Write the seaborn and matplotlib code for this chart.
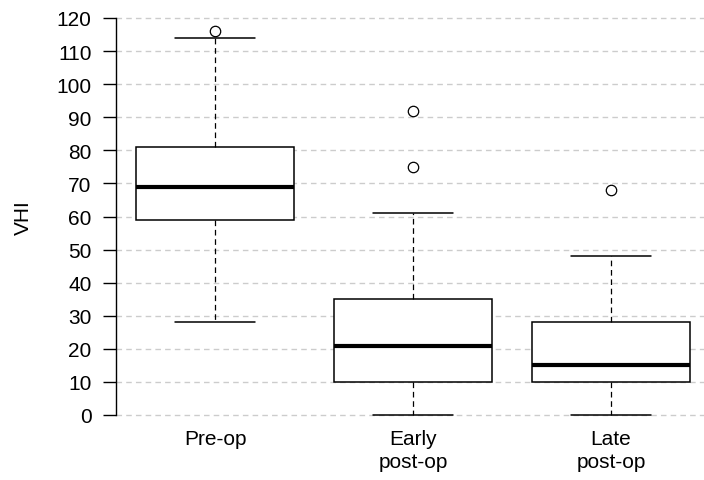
import matplotlib
matplotlib.use("Agg")
import matplotlib.pyplot as plt
import seaborn as sns
import pandas as pd

# Values chosen so the five-number summaries and outliers match the chart
pre_op = [28, 45, 55, 59, 62, 66, 69, 72, 77, 81, 95, 114, 116]
early_post_op = [0, 2, 5, 8, 10, 12, 15, 18, 21, 24, 28, 32, 35, 45, 61, 75, 92]
late_post_op = [0, 4, 8, 10, 12, 14, 15, 18, 22, 28, 38, 48, 68]
groups = ["Pre-op", "Early\npost-op", "Late\npost-op"]
y_ticks = list(range(0, 121, 10))

df = pd.DataFrame({
    "group": [groups[0]] * len(pre_op) + [groups[1]] * len(early_post_op) + [groups[2]] * len(late_post_op),
    "VHI": pre_op + early_post_op + late_post_op,
})

sns.set_theme(style="white")
plt.rcParams["font.family"] = ["Liberation Sans", "DejaVu Sans"]

fig = plt.figure(figsize=(7.04, 4.81), dpi=100)
ylo, yhi = -1.0, 120.64
ppu = 397 / 120.0
bottom_px = 416 + (0 - ylo) * ppu
top_px = 19 - (yhi - 120) * ppu
ax = fig.add_axes([116 / 704, 1 - bottom_px / 481, 3 * 198 / 704, (bottom_px - top_px) / 481])

sns.boxplot(
    data=df, x="group", y="VHI", order=groups, ax=ax,
    width=0.8, color="white", linecolor="black", linewidth=1.1, whis=1.5,
    whiskerprops=dict(linestyle=(0, (4.5, 3)), linewidth=0.9),
    capprops=dict(linewidth=1.1),
    medianprops=dict(linewidth=3.0, color="black"),
    flierprops=dict(marker="o", markersize=7.5, markerfacecolor="none",
                    markeredgecolor="black", markeredgewidth=0.9),
)

ax.set_xlim(-0.5, 2.5)
ax.set_ylim(ylo, yhi)
ax.set_yticks(y_ticks)
ax.set_yticklabels([str(v) for v in y_ticks])
ax.yaxis.grid(True, color="#cccccc", linestyle=(0, (4, 3)), linewidth=1.0)
ax.xaxis.grid(False)
ax.set_axisbelow(True)

for s in ["top", "right", "bottom"]:
    ax.spines[s].set_visible(False)
ax.spines["left"].set_bounds(0, 120)
ax.spines["left"].set_color("black")
ax.spines["left"].set_linewidth(1.0)

ax.tick_params(axis="y", which="major", left=True, length=9.5, width=1.0,
               color="black", labelsize=15, pad=8, labelcolor="black")
ax.tick_params(axis="x", length=0, labelsize=15, pad=8, labelcolor="black")
for lab in ax.get_xticklabels():
    lab.set_linespacing(1.25)
ax.set_xlabel("")
ax.set_ylabel("VHI", fontsize=15, color="black", labelpad=17)

fig.savefig("out.png", dpi=100)
